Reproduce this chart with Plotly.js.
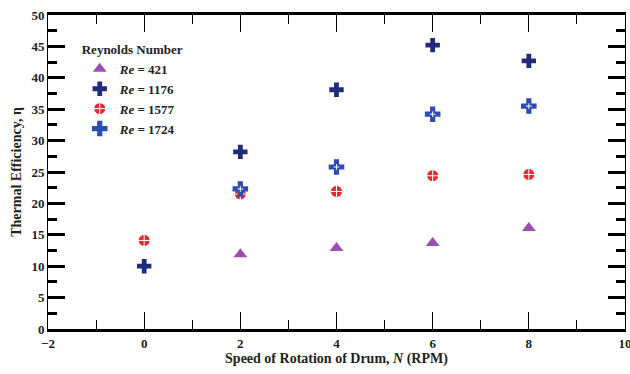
<!DOCTYPE html>
<html>
<head>
<meta charset="utf-8">
<script src="https://cdn.plot.ly/plotly-3.0.1.min.js"></script>
<style>html,body{margin:0;padding:0;background:#fff;}#chart{width:630px;height:374px;}</style>
</head>
<body>
<div id="chart"></div>
<script>
const speedN = [0, 2, 4, 6, 8];
const speedN421 = [2, 4, 6, 8];
const eta421 = [11.9, 12.9, 13.7, 16.1];
const eta1176 = [10.0, 28.2, 38.1, 45.2, 42.7];
const eta1577 = [14.1, 21.5, 21.9, 24.4, 24.6];
const speedN1724 = [2, 4, 6, 8];
const eta1724 = [22.3, 25.8, 34.2, 35.5];
const seriesNames = ["<i>Re</i> = 421", "<i>Re</i> = 1176", "<i>Re</i> = 1577", "<i>Re</i> = 1724"];

const F = "Liberation Serif";

const traces = [
  {x: speedN421, y: eta421, name: seriesNames[0], mode: "markers", type: "scatter",
   marker: {symbol: "triangle-up", size: 12, color: "#9b4db3"}},
  {x: speedN, y: eta1176, name: seriesNames[1], mode: "markers", type: "scatter",
   marker: {symbol: "cross", size: 12, color: "#222a7e"}},
  {x: speedN, y: eta1577, name: seriesNames[2], mode: "markers", type: "scatter",
   marker: {symbol: "circle-cross", size: 12, color: "#e62a2e", line: {width: 1, color: "#ffffff"}}},
  {x: speedN1724, y: eta1724, name: seriesNames[3], mode: "markers", type: "scatter",
   marker: {symbol: "cross", size: 13, color: "#2d4db5"}},
  {x: speedN1724, y: eta1724, name: "", mode: "markers", type: "scatter", showlegend: false, hoverinfo: "skip",
   marker: {symbol: "cross-thin-open", size: 4, color: "#ffffff", line: {width: 1, color: "#ffffff"}}}
];

const layout = {
  width: 630, height: 374,
  margin: {l: 48, r: 5, t: 15, b: 45},
  paper_bgcolor: "#fff", plot_bgcolor: "#fff",
  showlegend: true,
  xaxis: {
    range: [-2, 10], dtick: 2, ticklabeloverflow: "allow",
    showline: true, linewidth: 3, linecolor: "black", mirror: "ticks",
    ticks: "inside", ticklen: 17, tickwidth: 1, tickcolor: "black",
    minor: {dtick: 1, ticks: "inside", ticklen: 9, tickwidth: 1, tickcolor: "black"},
    showgrid: false, zeroline: false,
    tickfont: {family: F, size: 13, color: "#222", weight: "bold"},
    title: {text: "Speed of Rotation of Drum, <i>N</i> (RPM)", font: {family: F, size: 14, color: "#222", weight: "bold"}, standoff: 4}
  },
  yaxis: {
    range: [0, 50], dtick: 5,
    showline: true, linewidth: 1, linecolor: "black", mirror: "ticks",
    ticks: "inside", ticklen: 17, tickwidth: 3, tickcolor: "black",
    minor: {dtick: 2.5, ticks: "inside", ticklen: 9, tickwidth: 3, tickcolor: "black"},
    showgrid: false, zeroline: false,
    tickfont: {family: F, size: 13, color: "#222", weight: "bold"},
    title: {text: "Thermal Efficiency, η", font: {family: F, size: 14, color: "#222", weight: "bold"}, standoff: 6}
  },
  legend: {
    x: 0.055, y: 0.93, xanchor: "left", yanchor: "top",
    bgcolor: "rgba(0,0,0,0)",
    font: {family: F, size: 13, color: "#222", weight: "bold"},
    title: {text: "Reynolds Number", font: {family: F, size: 13, color: "#222", weight: "bold"}},
    tracegroupgap: 0
  }
};

Plotly.newPlot("chart", traces, layout, {displayModeBar: false});
</script>
</body>
</html>
